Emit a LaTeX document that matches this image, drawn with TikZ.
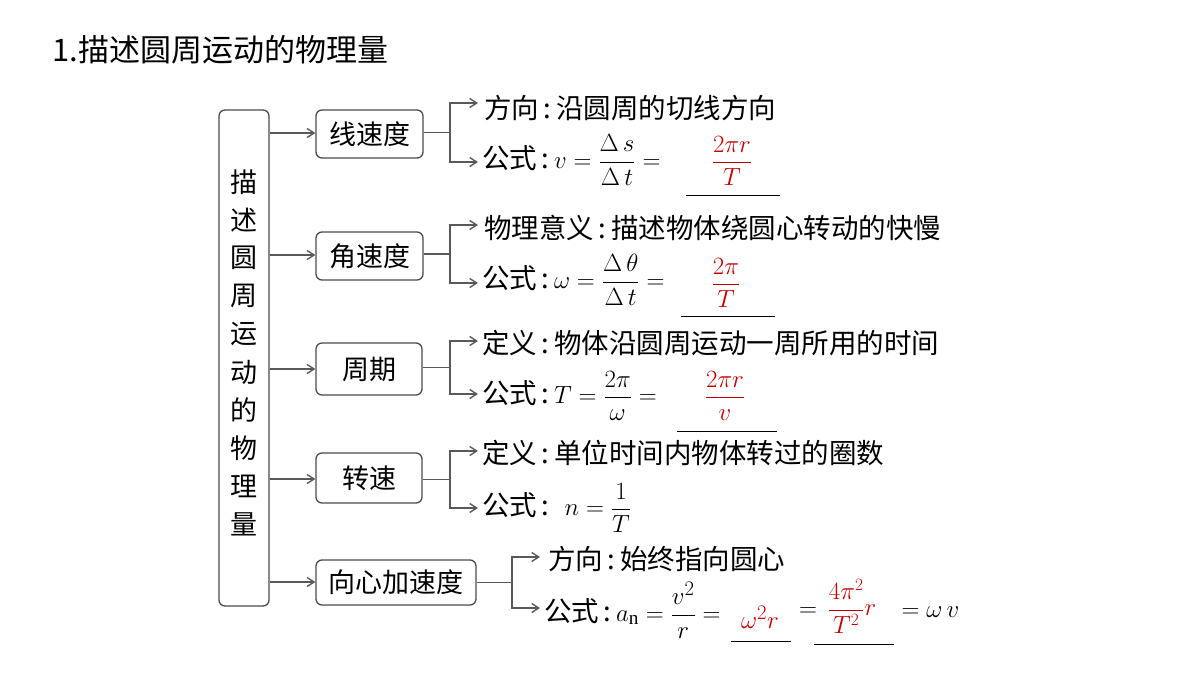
\documentclass[tikz,border=0pt]{standalone}
\usepackage{fontspec}
\setmainfont{Liberation Serif}
\newfontfamily\cjk{Noto Sans CJK SC}
\usetikzlibrary{arrows.meta}
\definecolor{myred}{RGB}{192,0,0}
\begin{document}
\begin{tikzpicture}[x=1pt,y=-1pt,
  box/.style={draw=black!70,rounded corners=6pt,line width=1.3pt,inner sep=0pt},
  lbl/.style={font=\fontsize{27}{30}\selectfont\cjk,anchor=center},
  txt/.style={font=\fontsize{27.5}{30}\selectfont\cjk,anchor=west,inner sep=0pt},
  con/.style={draw=black!65,line width=1.4pt,-{Straight Barb[length=7pt,width=9pt]}},
  ln/.style={draw=black!65,line width=1.4pt},
  ul/.style={draw=black,line width=1pt},
  rf/.style={font=\fontsize{24}{28}\selectfont,text=myred}]
\useasboundingbox (0,0) rectangle (1200,675);
\node[txt,font=\fontsize{31}{34}\selectfont\cjk] (title) at (52,50) {1.描述圆周运动的物理量};
% main box
\node[box,minimum width=50pt,minimum height=496pt] (main) at (244,358) {};
\foreach \c [count=\i] in {描,述,圆,周,运,动,的,物,理,量}
  \node[lbl] (m\i) at (244,144+\i*38) {\c};
% small boxes
\node[box,minimum width=107pt,minimum height=48pt,lbl] (b1) at (369.5,134) {线速度};
\node[box,minimum width=107pt,minimum height=48pt,lbl] (b2) at (369.5,256) {角速度};
\node[box,minimum width=106pt,minimum height=52pt,lbl] (b3) at (369,369) {周期};
\node[box,minimum width=106pt,minimum height=50pt,lbl] (b4) at (369,478) {转速};
\node[box,minimum width=160pt,minimum height=45pt,lbl] (b5) at (396,582.5) {向心加速度};
\foreach \i/\y in {1/133,2/255,3/369,4/479,5/582}
  \draw[con] (main.east |- 0,\y) -- (b\i.west |- 0,\y);
% branches
\foreach \i/\bx/\ya/\yb/\ex in {1/450/103/162/478,2/450/225/283/478,3/450/341/394/478,4/450/451/508/478,5/512/557/608/540}{
  \coordinate (j\i) at (\bx,{(\ya+\yb)/2});
  \coordinate (t\i) at (\ex,\ya);
  \coordinate (u\i) at (\ex,\yb);
  \draw[ln] (b\i.east |- j\i) -- (j\i);
  \draw[con] (j\i) |- (t\i);
  \draw[con] (j\i) |- (u\i);
}
% texts
\node[txt] (a1) at (484,108) {方向\,:\,沿圆周的切线方向};
\node[txt] (f1) at (482,160) {公式\,:\,$\displaystyle v=\frac{\Delta\,s}{\Delta\,t}=$};
\node[rf] (r1) at (732,161) {$\displaystyle\frac{2\pi r}{T}$};
\draw[ul] (686,195) -- (780,195);
\node[txt] (a2) at (484,228) {物理意义\,:\,描述物体绕圆心转动的快慢};
\node[txt] (f2) at (482,280) {公式\,:\,$\displaystyle \omega=\frac{\Delta\,\theta}{\Delta\,t}=$};
\node[rf] (r2) at (726,283) {$\displaystyle\frac{2\pi}{T}$};
\draw[ul] (681,316) -- (775,316);
\node[txt] (a3) at (482,343) {定义\,:\,物体沿圆周运动一周所用的时间};
\node[txt] (f3) at (482,396) {公式\,:\,$\displaystyle T=\frac{2\pi}{\omega}=$};
\node[rf] (r3) at (725,396) {$\displaystyle\frac{2\pi r}{v}$};
\draw[ul] (677,431) -- (777,431);
\node[txt] (a4) at (482,453) {定义\,:\,单位时间内物体转过的圈数};
\node[txt] (f4) at (482,508) {公式\,:\;\;$\displaystyle n=\frac{1}{T}$};
\node[txt] (a5) at (548,559) {方向\,:\,始终指向圆心};
\node[txt] (f5) at (544,610) {公式\,:\,$\displaystyle a_{\mathrm n}=\frac{v^2}{r}=$};
\node[font=\fontsize{29}{32}\selectfont,text=myred] (r5a) at (760,617) {$\omega^2 r$};
\draw[ul] (731,641) -- (791,641);
\node[font=\fontsize{26}{30}\selectfont] (e5) at (808,612) {$=$};
\node[rf] (r5b) at (852,606) {$\displaystyle\frac{4\pi^2}{T^2}r$};
\draw[ul] (814,644) -- (894,644);
\node[font=\fontsize{26}{30}\selectfont,anchor=west] (e6) at (898,612) {$=\omega\,v$};
\end{tikzpicture}
\end{document}
